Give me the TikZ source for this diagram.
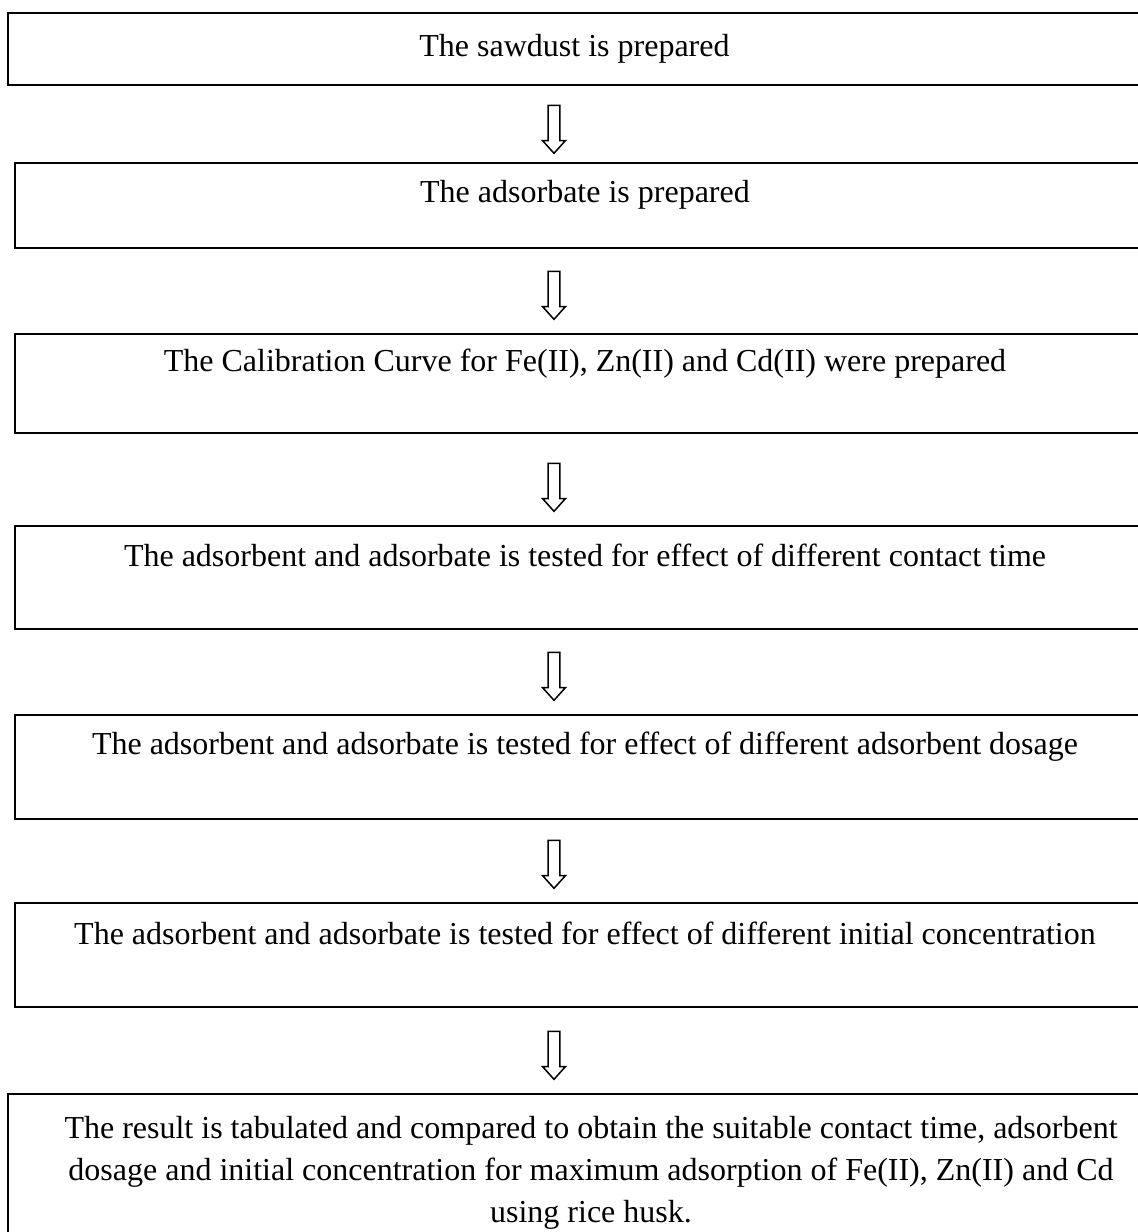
\documentclass[tikz,border=0pt]{standalone}
\usepackage{fontspec}
\setmainfont{Liberation Serif}
\usetikzlibrary{shapes.arrows}

\begin{document}
\begin{tikzpicture}[
		x=0.5pt, y=-0.5pt,
		stepbox/.style={rectangle, draw, line width=1pt, anchor=north west, minimum width=570pt, inner sep=0pt},
		steptext/.style={anchor=base, inner sep=0pt, font=\fontsize{16pt}{21pt}\selectfont},
		downarrow/.style={single arrow, draw, line width=0.75pt, shape border rotate=270, minimum height=24pt, single arrow head extend=2.75pt, single arrow tip angle=84, inner sep=2.6pt}
	]
  \useasboundingbox (0,0) rectangle (1138,1232);
  \clip (0,0) rectangle (1138,1232);
  % boxes
  \node (b1) [stepbox, minimum width=566.5pt, minimum height=36pt] at (7,12) {};
  \node (b2) [stepbox, minimum height=42.5pt] at (14,162) {};
  \node (b3) [stepbox, minimum height=49.5pt] at (14,333) {};
  \node (b4) [stepbox, minimum height=51.5pt] at (14,525) {};
  \node (b5) [stepbox, minimum height=52pt] at (14,714) {};
  \node (b6) [stepbox, minimum height=52pt] at (14,902) {};
  \node (b7) [stepbox, minimum width=583pt, minimum height=75pt] at (7,1093) {};
  % texts
  \node (t1) [steptext] at ([yshift=-22pt]b1.north) {The sawdust is prepared};
  \node (t2) [steptext] at ([yshift=-20pt]b2.north) {The adsorbate is prepared};
  \node (t3) [steptext] at ([yshift=-19pt]b3.north) {The Calibration Curve for Fe(II), Zn(II) and Cd(II) were prepared};
  \node (t4) [steptext] at ([yshift=-20.5pt]b4.north) {The adsorbent and adsorbate is tested for effect of different contact time};
  \node (t5) [steptext] at ([yshift=-20pt]b5.north) {The adsorbent and adsorbate is tested for effect of different adsorbent dosage};
  \node (t6) [steptext] at ([yshift=-21pt]b6.north) {The adsorbent and adsorbate is tested for effect of different initial concentration};
  \node (t7) [steptext, anchor=north, align=center] at ([yshift=-11.5pt]b7.north) {The result is tabulated and compared to obtain the suitable contact time, adsorbent\\dosage and initial concentration for maximum adsorption of Fe(II), Zn(II) and Cd\\using rice husk.};
  % arrows
  \node (a1) [downarrow] at (554,126) {};
  \node (a2) [downarrow] at (554,292) {};
  \node (a3) [downarrow] at (554,484) {};
  \node (a4) [downarrow] at (554,673) {};
  \node (a5) [downarrow] at (554,861) {};
  \node (a6) [downarrow] at (554,1052) {};
\end{tikzpicture}
\end{document}
